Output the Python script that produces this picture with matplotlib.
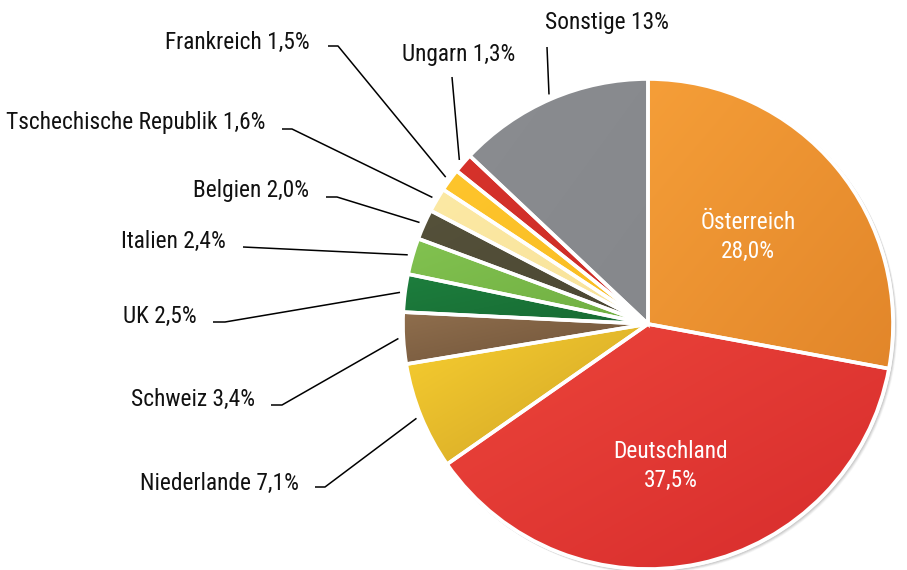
import matplotlib
matplotlib.use('Agg')
import matplotlib.pyplot as plt
import numpy as np
from matplotlib.colors import to_rgb
from matplotlib.patches import Circle

# ---------------- data ----------------
countries = ['Österreich', 'Deutschland', 'Niederlande', 'Schweiz', 'UK', 'Italien',
             'Belgien', 'Tschechische Republik', 'Frankreich', 'Ungarn', 'Sonstige']
shares = [28.0, 37.5, 7.1, 3.4, 2.5, 2.4, 2.0, 1.6, 1.5, 1.3, 13]
share_labels = ['28,0%', '37,5%', '7,1%', '3,4%', '2,5%', '2,4%', '2,0%', '1,6%', '1,5%', '1,3%', '13%']

# light / dark colours for each wedge (gradient)
colors_light = ['#F59E38', '#EC453B', '#F8CF30', '#8F6E4D', '#1D7E3D', '#82C250',
                '#55513A', '#FCE9A4', '#FEC52C', '#D6322B', '#8A8C90']
colors_dark = ['#E2862A', '#D72C2C', '#CFA226', '#6E5238', '#176A33', '#6FAE41',
               '#4B4733', '#F8E29A', '#F9BC22', '#CC2C26', '#86888C']

FONT = dict(family=['Roboto Condensed', 'DejaVu Sans'])
FS = 16.8

W, H = 907, 570
fig = plt.figure(figsize=(W / 100, H / 100), dpi=100)
ax = fig.add_axes([0, 0, 1, 1])
ax.set_xlim(0, W)
ax.set_ylim(0, H)
ax.set_aspect('equal')
ax.axis('off')

def py(y):
    return H - y

cx, cy, R = 648, py(324), 245

# soft shadow
for off, a in [(5, 0.05), (4, 0.07), (3, 0.09), (2, 0.10)]:
    ax.add_patch(Circle((cx + off * 0.6, cy - off * 0.6), R + 1.5, color='#555555',
                        alpha=a, lw=0, zorder=0.5))
ax.add_patch(Circle((cx, cy), R + 2, color='white', lw=0, zorder=0.8))

wedges, _ = ax.pie(shares, colors=colors_light, startangle=90, counterclock=False,
                   center=(cx, cy), radius=R, frame=True,
                   wedgeprops=dict(linewidth=0))
ax.set_xlim(0, W)
ax.set_ylim(0, H)

n = 64
ii, jj = np.mgrid[0:n, 0:n] / (n - 1)
tgrid = (ii + jj) / 2.0
for w, cl, cd in zip(wedges, colors_light, colors_dark):
    ext = w.get_path().get_extents()
    c1, c2 = np.array(to_rgb(cl)), np.array(to_rgb(cd))
    img = c1[None, None, :] * (1 - tgrid[..., None]) + c2[None, None, :] * tgrid[..., None]
    im = ax.imshow(img, extent=[ext.x0, ext.x1, ext.y0, ext.y1], origin='upper',
                   interpolation='bilinear', zorder=1.5)
    im.set_clip_path(w)

# white separators
edges, _ = ax.pie(shares, colors=['none'] * len(shares), startangle=90, counterclock=False,
                  center=(cx, cy), radius=R, frame=True,
                  wedgeprops=dict(linewidth=2.6, edgecolor='white', zorder=2))
ax.set_xlim(0, W)
ax.set_ylim(0, H)
ax.set_aspect('equal')
ax.axis('off')

# inner labels
inner = {0: (748, 237), 1: (671, 466)}
for i, (x, y) in inner.items():
    ax.text(x, py(y), f'{countries[i]}\n{share_labels[i]}', color='white', fontsize=FS,
            ha='center', va='center', linespacing=1.38, zorder=3, **FONT)

# outer labels: (text x, text y, ha, elbow x, elbow y, stub start x)
outer = {
    2: (299, 483, 'right', 325, 487, 315),
    3: (255, 399, 'right', 282, 405, 271),
    4: (197, 316, 'right', 225, 322, 213),
    5: (226, 241, 'right', 243, 247, 243),
    6: (309, 191, 'right', 337, 197, 326),
    7: (265, 122, 'right', 292, 129, 282),
    8: (310, 42, 'right', 338, 46, 328),
    9: (459, 54, 'center', 452, 77, 452),
    10: (607, 23, 'center', 547, 47, 547),
}
frac = np.array(shares) / np.sum(shares)
cum = np.cumsum(frac) - frac / 2
for i, (tx, ty, ha, ex, ey, sx) in outer.items():
    ang = np.deg2rad(90 - 360 * cum[i])
    px_, py_ = cx + (R + 5) * np.cos(ang), cy + (R + 5) * np.sin(ang)
    ax.plot([sx, ex, px_], [py(ey), py(ey), py_], color='black', lw=1.1,
            solid_capstyle='butt', zorder=3)
    ax.text(tx, py(ty), f'{countries[i]} {share_labels[i]}', color='#111111', fontsize=FS,
            ha=ha, va='center', zorder=3, **FONT)

fig.savefig('out.png', dpi=100)
